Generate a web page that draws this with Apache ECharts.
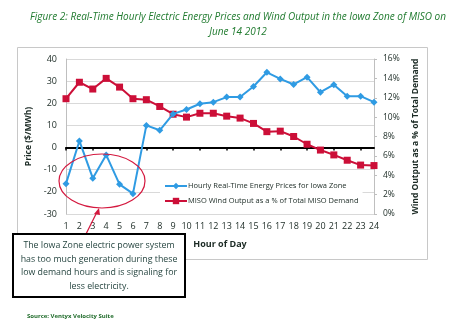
<!DOCTYPE html>
<html>
<head>
<meta charset="utf-8">
<script src="https://cdn.jsdelivr.net/npm/echarts@6/dist/echarts.min.js"></script>
<style>
  html, body { margin: 0; padding: 0; background: #fff; }
  #chart { width: 454px; height: 330px; }
</style>
</head>
<body>
<div id="chart"></div>
<script>
// Hours of the day
const hours = ['1','2','3','4','5','6','7','8','9','10','11','12','13','14','15','16','17','18','19','20','21','22','23','24'];
// Hourly real-time price, $/MWh (left axis)
const priceValues = [-16.3, 3, -13.8, -3.3, -16.6, -20.8, 10, 7.8, 15.2, 17.2, 19.8, 20.5, 22.8, 22.8, 27.6, 34, 31, 28.5, 31.8, 25, 28.4, 23.2, 23.2, 20.5];
// Wind output as % of total demand (right axis)
const windValues = [11.9, 13.6, 12.9, 14.0, 13.1, 11.9, 11.8, 11.1, 10.3, 10.0, 10.4, 10.4, 10.1, 9.9, 9.35, 8.5, 8.55, 8.0, 7.2, 6.6, 6.1, 5.55, 5.05, 5.0];
// Tick settings
const priceTicks = { min: -30, max: 40, interval: 10 };
const windTicks = { min: 0, max: 16, interval: 2 };

const priceName = 'Hourly Real-Time Energy Prices for Iowa Zone';
const windName = 'MISO Wind Output as a % of Total MISO Demand';
const FONT = 'Open Sans';
const TXT = '#1b2a24';

const chart = echarts.init(document.getElementById('chart'));
chart.setOption({
  animation: false,
  backgroundColor: '#fff',
  grid: { left: 66, right: 80, top: 59, bottom: 116 },
  legend: {
    orient: 'vertical',
    left: 160,
    top: 179,
    itemGap: 7,
    itemWidth: 22,
    itemHeight: 8,
    padding: [3, 4],
    backgroundColor: '#fff',
    textStyle: { fontFamily: FONT, fontSize: 7.5, color: TXT, padding: [0, 0, 0, -4] },
    data: [priceName, windName]
  },
  xAxis: [
    {
      type: 'category',
      data: hours,
      boundaryGap: false,
      position: 'bottom',
      axisLine: { show: false, onZero: false },
      axisTick: { show: false },
      axisLabel: { fontFamily: FONT, fontSize: 9, color: TXT, margin: 8 },
      name: 'Hour of Day',
      nameLocation: 'middle',
      nameGap: 26,
      nameTextStyle: { fontFamily: FONT, fontSize: 9, fontWeight: 'bold', color: TXT }
    },
    {
      type: 'category',
      data: hours,
      boundaryGap: false,
      position: 'bottom',
      axisLine: { show: true, onZero: true, onZeroAxisIndex: 0, lineStyle: { color: '#000', width: 2 } },
      axisTick: { show: true, length: 3, lineStyle: { color: '#000', width: 1.5 } },
      axisLabel: { show: false },
      splitLine: { show: false }
    }
  ],
  yAxis: [
    {
      type: 'value',
      min: priceTicks.min, max: priceTicks.max, interval: priceTicks.interval,
      axisLine: { show: true, lineStyle: { color: '#bfbfbf' } },
      axisTick: { show: false },
      axisLabel: { fontFamily: FONT, fontSize: 9, color: TXT, margin: 9 },
      splitLine: { lineStyle: { color: '#d9d9d9' } },
      name: 'Price ($/MWh)',
      nameLocation: 'middle',
      nameGap: 29,
      nameTextStyle: { fontFamily: FONT, fontSize: 8.5, fontWeight: 'bold', color: TXT }
    },
    {
      type: 'value',
      min: windTicks.min, max: windTicks.max, interval: windTicks.interval,
      position: 'right',
      axisLine: { show: true, lineStyle: { color: '#bfbfbf' } },
      axisTick: { show: true, length: 3, lineStyle: { color: '#bfbfbf' } },
      axisLabel: { fontFamily: FONT, fontSize: 8.5, color: TXT, margin: 9, formatter: '{value}%' },
      splitLine: { show: false },
      name: 'Wind Output as a % of Total Demand',
      nameLocation: 'middle',
      nameGap: 35,
      nameRotate: 90,
      nameTextStyle: { fontFamily: FONT, fontSize: 8.5, fontWeight: 'bold', color: TXT }
    }
  ],
  series: [
    {
      name: priceName,
      type: 'line',
      xAxisIndex: 0,
      yAxisIndex: 0,
      data: priceValues,
      symbol: 'diamond',
      symbolSize: 7,
      lineStyle: { color: '#2f9be3', width: 2 },
      itemStyle: { color: '#2f9be3' },
      z: 4
    },
    {
      name: windName,
      type: 'line',
      xAxisIndex: 0,
      yAxisIndex: 1,
      data: windValues,
      symbol: 'rect',
      symbolSize: 7,
      lineStyle: { color: '#cc0f38', width: 2 },
      itemStyle: { color: '#cc0f38' },
      z: 3
    }
  ],
  graphic: [
    // figure title
    {
      type: 'text', x: 238, y: 10, z: 12,
      style: {
        text: 'Figure 2: Real-Time Hourly Electric Energy Prices and Wind Output in the Iowa Zone of MISO on\nJune 14 2012',
        fontFamily: FONT, fontStyle: 'italic', fontSize: 10, lineHeight: 15, fill: '#1f7a2e', align: 'center', verticalAlign: 'top'
      }
    },
    // chart frame
    { type: 'rect', shape: { x: 17.5, y: 47.5, width: 410, height: 212 }, style: { fill: null, stroke: '#c8c8c8', lineWidth: 1 }, z: -1, silent: true },
    // ellipse around the negative-price hours
    { type: 'ellipse', shape: { cx: 102, cy: 181, rx: 43, ry: 27 }, style: { fill: null, stroke: '#d4193f', lineWidth: 1.2 }, z: 10 },
    // arrow pointing at the ellipse
    { type: 'line', shape: { x1: 84, y1: 238, x2: 97, y2: 212 }, style: { stroke: '#d4193f', lineWidth: 1.2 }, z: 10 },
    { type: 'polygon', shape: { points: [[99, 208], [94, 214], [100, 215]] }, style: { fill: '#d4193f' }, z: 10 },
    // callout box
    { type: 'rect', shape: { x: 13, y: 234, width: 172, height: 63 }, style: { fill: '#fff', stroke: '#000', lineWidth: 2 }, z: 11 },
    {
      type: 'text', x: 99, y: 239, z: 12,
      style: {
        text: 'The Iowa Zone electric power system\nhas too much generation during these\nlow demand hours and is signaling for\nless electricity.',
        fontFamily: FONT, fontSize: 8.8, lineHeight: 13.5, fill: '#1f3f3a', align: 'center', verticalAlign: 'top'
      }
    },
    // source note
    {
      type: 'text', x: 27, y: 313, z: 12,
      style: { text: 'Source: Ventyx Velocity Suite', fontFamily: FONT, fontSize: 6, fontWeight: 'bold', fill: '#1f6b2a' }
    }
  ]
});
</script>
</body>
</html>
